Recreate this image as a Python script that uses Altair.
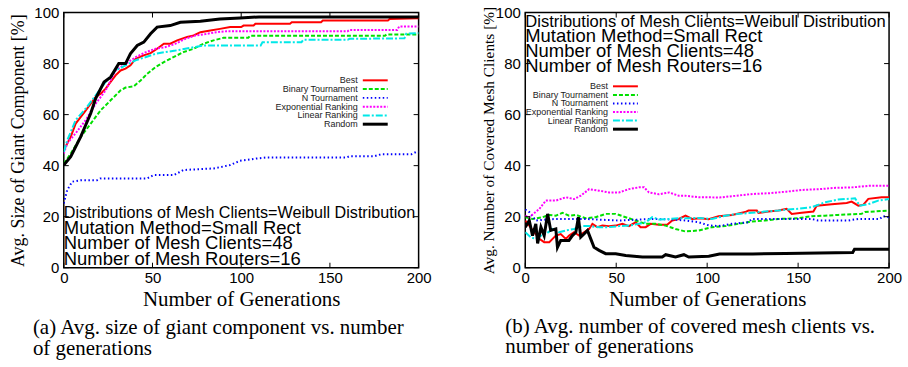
import altair as alt
import pandas as pd

series = ["Best", "Binary Tournament", "N Tournament", "Exponential Ranking", "Linear Ranking", "Random"]

# ---------------- panel (a): giant component ----------------
a_best_x = [0, 3.9, 6.7, 9.6, 12.4, 15.2, 18, 20.8, 23.6, 26.4, 29.2, 32, 34.8, 37.6, 40.5, 45, 48.9, 52.6, 56.4, 60, 63.9, 69.5, 73.2, 77, 82.6, 88, 93.8, 100, 101.3, 107, 108, 127.5, 128.5, 145, 146, 182.7, 183.7, 200]
a_best_y = [46.1, 51.3, 56.5, 59.1, 61.7, 64.3, 66.9, 68.2, 70.2, 72.8, 75.4, 77.3, 78, 79.3, 81.9, 83.2, 84.1, 85.8, 87.8, 87.8, 89.1, 90.4, 91, 92.3, 93, 93.6, 94.3, 94.3, 94.9, 94.9, 95.6, 95.6, 96.2, 96.2, 96.9, 96.9, 97.5, 97.8]
a_bin_x = [0, 3.9, 9.6, 15.2, 20.8, 26.4, 32, 34.8, 39.5, 43.3, 47, 51.6, 56.4, 61.8, 67.4, 73.2, 78.8, 84.4, 90, 104, 105, 181, 182, 200]
a_bin_y = [40.8, 44.7, 51.3, 56.5, 61.7, 65.6, 69.5, 70.6, 71.1, 73.4, 76, 78.6, 80.6, 82.5, 84.5, 85.8, 87.8, 89.1, 90.1, 90.1, 90.9, 90.9, 91.4, 91.4]
a_nt_x = [0, 1.9, 4.7, 9.4, 18.7, 20.6, 47, 50.6, 62, 67.5, 84.4, 93.7, 99.3, 108.7, 114.3, 159.3, 161, 175, 179, 196, 198.7, 200]
a_nt_y = [25.2, 30.4, 33.7, 34.3, 34.3, 35, 35, 36.3, 36.3, 38.3, 38.9, 40.2, 41.9, 42.8, 43.2, 43.2, 43.7, 43.7, 44.5, 44.5, 45.4, 45.4]
a_exp_x = [0, 2, 6.7, 12.4, 18, 23.6, 29.2, 34.8, 40.5, 46, 51.6, 57, 63, 68.5, 74, 80, 86, 92, 160, 161, 188, 189, 200]
a_exp_y = [44.8, 48.8, 52.7, 57.9, 64.3, 69.5, 77.3, 79.9, 82.5, 84.4, 85.8, 86.4, 87.8, 89.7, 91, 91.6, 92.3, 92.7, 92.7, 93.2, 93.2, 94.5, 94.5]
a_lin_x = [0, 2, 6.7, 12.4, 18, 23.6, 29.2, 34.8, 40.5, 46, 51.6, 57, 63, 73.2, 78.8, 94, 111, 112, 134, 135, 160, 161, 192, 193, 200]
a_lin_y = [45.4, 50, 57.9, 62.4, 67.6, 72.8, 77.3, 79.3, 81.3, 82.5, 83.8, 84.5, 85.1, 86.4, 87.1, 87.1, 87.1, 88.4, 88.4, 89.3, 89.3, 89.7, 89.9, 91.7, 92]
a_rnd_x = [0, 3.9, 9.5, 15.2, 18, 22.7, 26.4, 31, 34.8, 37.6, 41.4, 45.1, 48.9, 52.6, 60, 65.7, 77, 88, 99.4, 110, 200]
a_rnd_y = [40.2, 43.5, 51.3, 60.5, 66.4, 72.8, 74.7, 80, 80, 83.9, 87.1, 88.4, 91.7, 94.3, 94.9, 96.2, 96.6, 97.5, 97.9, 98.3, 98.3]

# ---------------- panel (b): covered mesh clients ----------------
b_best_x = [0, 2.2, 4.9, 7.7, 10.4, 13.2, 15, 16.8, 19.5, 22.3, 24.1, 26.8, 29.6, 32.3, 35.1, 36.9, 39.6, 42.4, 46, 49.7, 53.4, 57, 60.7, 63.4, 66.2, 68.9, 73.5, 78, 80.8, 84.4, 88.1, 91.7, 96.3, 100.8, 106.3, 113.6, 120.9, 122.7, 127.3, 128.2, 133.7, 139.2, 143.7, 146.5, 152, 158.4, 160.2, 168.5, 176.7, 179.4, 183.1, 185.8, 188.6, 195.9, 200]
b_best_y = [18.5, 16.5, 13.9, 11.3, 10, 10, 11.3, 12.6, 13.2, 11.3, 12.6, 13.9, 12.6, 13.9, 15.2, 17.2, 15.9, 16.5, 16.3, 16.5, 17.2, 16.3, 17.8, 15.9, 15.9, 17.2, 16.8, 16.8, 18.5, 19.1, 20.4, 19.1, 19.4, 19.0, 20.2, 20.7, 21.8, 22.4, 22.4, 21.5, 22, 22.4, 23.1, 21.1, 21.5, 22, 24.3, 24.9, 25.4, 25.9, 24.3, 24.6, 27, 27.6, 27.6]
b_bin_x = [0, 4, 9.5, 13.2, 16.8, 20.5, 24.1, 27.8, 33.2, 38.7, 44.2, 49.7, 55.2, 60.7, 66.2, 71.6, 77.1, 82.6, 88.1, 95.4, 102.6, 109.9, 117.2, 124.5, 131.8, 139.2, 150.1, 157.4, 164.7, 172, 184.8, 186.7, 200]
b_bin_y = [19.8, 19.1, 19.8, 20.7, 20.4, 21.5, 20.4, 20.7, 19.4, 19.8, 21.1, 21.1, 19.8, 18.5, 17.2, 17.2, 16.5, 15.2, 14.2, 14.6, 15.9, 16.3, 17.2, 18.1, 18.5, 19.1, 19.4, 20.2, 20.4, 20.7, 21.1, 21.8, 22.4]
b_nt_x = [0, 2.2, 5.8, 11.3, 16.8, 33.2, 51.5, 69.8, 80.8, 88.1, 95.4, 100.8, 106.3, 113.6, 122.7, 124.5, 139.2, 157.4, 161, 177.5, 183, 194.9, 196.7, 200]
b_nt_y = [22.8, 21.8, 18.5, 18.9, 19.1, 19.1, 18.5, 19.1, 18.9, 18.5, 17.8, 16.6, 16.3, 17.2, 17.8, 19.1, 19.1, 19.1, 18.5, 18.5, 19.1, 19.1, 20.2, 19.8]
b_exp_x = [0, 2.2, 7.7, 11.3, 16.8, 22.3, 26.8, 30.5, 35.1, 40.6, 46, 51.5, 57, 62.5, 65.3, 68, 73.5, 79, 84.4, 88.1, 95.4, 100.9, 106.8, 116, 125.1, 134.2, 143.4, 152.5, 161.6, 170.8, 180, 189, 200]
b_exp_y = [20.4, 19.8, 23, 26.3, 26.3, 27.6, 26.9, 28.2, 30.8, 30.2, 29.5, 29.5, 30.8, 31.5, 31.5, 29.5, 28.8, 29.5, 28.2, 28.2, 27.6, 27.6, 27.5, 28.2, 28.9, 29.2, 29.8, 30.5, 30.8, 31.3, 31.5, 32.1, 32.1]
b_lin_x = [0, 3.1, 5.8, 8.6, 11.3, 15, 18.6, 22.3, 26.8, 31.4, 35.1, 40.6, 46, 51.5, 57, 62.5, 66.2, 69.8, 73.5, 79, 84.4, 89.9, 95.4, 102.6, 109.9, 117.2, 124.5, 131.8, 139.2, 144.6, 150.1, 157.4, 164.7, 172, 181.3, 183.9, 188.6, 194, 200]
b_lin_y = [13.9, 11.9, 11.3, 12.6, 13.2, 15.2, 13.9, 14.6, 15.2, 16.3, 16.3, 15.9, 15.9, 16.3, 16.5, 17.2, 17.8, 19.8, 18.9, 19.1, 19.4, 19.4, 19.5, 19.1, 20.4, 21.1, 21.5, 22, 22.4, 22.8, 23.1, 23.7, 25.6, 26.7, 27.2, 24.3, 24.9, 26.3, 26.9]
b_rnd_x = [0, 2.2, 4, 5.8, 6.8, 8.6, 10.4, 12.3, 14, 16.8, 17.7, 19.5, 24, 25.9, 27.8, 29.2, 30.5, 32.3, 34.2, 36, 37.8, 40.6, 44.2, 49.7, 55.2, 64.4, 75.3, 77.2, 82.6, 87.2, 89.9, 100.9, 106.8, 125, 143, 180, 181, 200]
b_rnd_y = [15.9, 18.5, 12.6, 17.2, 9.5, 15.9, 12.6, 21.1, 14.6, 15.2, 8, 10.7, 10.7, 12.6, 13.9, 19.8, 12, 13.2, 14.6, 11.3, 8, 6.8, 5.5, 5.5, 4.8, 4.2, 4.2, 5.1, 4.2, 5.1, 4.2, 4.5, 5.4, 5.4, 5.6, 6, 7.2, 7.2]

x_ticks = [0, 50, 100, 150, 200]
y_ticks = [0, 20, 40, 60, 80, 100]

annot_lines = [
    "Distributions of Mesh Clients=Weibull Distribution",
    "Mutation Method=Small Rect",
    "Number of Mesh Clients=48",
    "Number of Mesh Routers=16",
]
x_title = "Number of Generations"
a_ytitle = "Avg. Size of Giant Component [%]"
b_ytitle = "Avg. Number of Covered Mesh Clients [%]"
a_caption = ["(a) Avg. size of giant component vs. number", "of generations"]
b_caption = ["(b) Avg. number of covered mesh clients vs.", "number of generations"]

# styles
colors = ["#ff0000", "#00e000", "#0000ff", "#ff00ff", "#00e8e8", "#000000"]
dashes = [None, [4, 2], [1.5, 2.5], [2, 1.5], [7, 2, 2, 2], None]
widths = [2, 2, 2, 2, 2, 3]

W_A, W_B, H = 356, 365, 256


def one_row(text):
    return pd.DataFrame({"t": [text]})


def panel(xs, ys, W, ytitle, ytitle_size, ytitle_x, leg_x, leg_y0, leg_dy,
          annot_base, annot_first_size, caption, cap_x, cap_base):
    xs_enc_axis = alt.Axis(values=x_ticks, title=x_title, labelFlush=False,
                           labelPadding=3, titleFontSize=21, titleY=38,
                           titleBaseline="alphabetic")
    ys_enc_axis = alt.Axis(values=y_ticks, title=ytitle, labelFlush=False,
                           labelPadding=5, titleFontSize=ytitle_size,
                           titleX=ytitle_x, titleY=H / 2, titleAngle=270,
                           titleBaseline="middle", titleAlign="center")
    xsc = alt.Scale(domain=[0, 200], nice=False, zero=False)
    ysc = alt.Scale(domain=[0, 100], nice=False)
    layers = []
    for i, name in enumerate(series):
        df = pd.DataFrame({"gen": xs[i], "val": ys[i]})
        kw = dict(color=colors[i], strokeWidth=widths[i], clip=True)
        if dashes[i] is not None:
            kw["strokeDash"] = dashes[i]
        layers.append(
            alt.Chart(df).mark_line(**kw).encode(
                x=alt.X("gen:Q", scale=xsc, axis=xs_enc_axis),
                y=alt.Y("val:Q", scale=ysc, axis=ys_enc_axis),
            )
        )
    # inward tick marks (gnuplot style) on all four sides
    ydf = pd.DataFrame({"val": y_ticks})
    xdf = pd.DataFrame({"gen": x_ticks})
    layers.append(alt.Chart(ydf).mark_rule(color="black", strokeWidth=1).encode(
        y=alt.Y("val:Q", scale=ysc, axis=ys_enc_axis), x=alt.value(0), x2=alt.value(5)))
    layers.append(alt.Chart(ydf).mark_rule(color="black", strokeWidth=1).encode(
        y=alt.Y("val:Q", scale=ysc, axis=ys_enc_axis), x=alt.value(W - 5), x2=alt.value(W)))
    layers.append(alt.Chart(xdf).mark_rule(color="black", strokeWidth=1).encode(
        x=alt.X("gen:Q", scale=xsc, axis=xs_enc_axis), y=alt.value(H - 5), y2=alt.value(H)))
    layers.append(alt.Chart(xdf).mark_rule(color="black", strokeWidth=1).encode(
        x=alt.X("gen:Q", scale=xsc, axis=xs_enc_axis), y=alt.value(0), y2=alt.value(5)))
    # legend (label left, sample line right)
    for i, name in enumerate(series):
        ly = leg_y0 + i * leg_dy
        kw = dict(color=colors[i], strokeWidth=widths[i])
        if dashes[i] is not None:
            kw["strokeDash"] = dashes[i]
        layers.append(alt.Chart(one_row(name)).mark_rule(**kw).encode(
            x=alt.value(leg_x + 5), x2=alt.value(leg_x + 30), y=alt.value(ly)))
        layers.append(alt.Chart(one_row(name)).mark_text(
            align="right", baseline="middle", font="Liberation Sans", fontSize=9,
            color="#222222").encode(x=alt.value(leg_x), y=alt.value(ly), text="t:N"))
    # annotation block
    for j, line in enumerate(annot_lines):
        layers.append(alt.Chart(one_row(line)).mark_text(
            align="left", baseline="alphabetic", font="Liberation Sans",
            fontSize=annot_first_size if j == 0 else 18.5, color="black").encode(
            x=alt.value(0), y=alt.value(annot_base[j]), text="t:N"))
    # caption
    for j, line in enumerate(caption):
        layers.append(alt.Chart(one_row(line)).mark_text(
            align="left", baseline="alphabetic", font="Liberation Serif",
            fontSize=21, color="black").encode(
            x=alt.value(cap_x), y=alt.value(cap_base[j]), text="t:N"))
    return alt.layer(*layers).properties(width=W, height=H)


left = panel(
    [a_best_x, a_bin_x, a_nt_x, a_exp_x, a_lin_x, a_rnd_x],
    [a_best_y, a_bin_y, a_nt_y, a_exp_y, a_lin_y, a_rnd_y],
    W_A, a_ytitle, 18, -45, 295, 68, 8.8,
    [206.3, 222.3, 237.3, 253], 16.2, a_caption, -31, [H + 67, H + 87.5])

right = panel(
    [b_best_x, b_bin_x, b_nt_x, b_exp_x, b_lin_x, b_rnd_x],
    [b_best_y, b_bin_y, b_nt_y, b_exp_y, b_lin_y, b_rnd_y],
    W_B, b_ytitle, 15.4, -37, 83, 74, 8.6,
    [14.3, 29.7, 44.3, 59.7], 16.6, b_caption, -20, [H + 66, H + 86])

chart = alt.hconcat(left, right, spacing=107, bounds="flush").properties(
    padding={"left": 9, "top": 4, "right": 5, "bottom": 0},
    background="white",
).configure_view(stroke="black", strokeWidth=1.5).configure_axis(
    grid=False, domain=False, ticks=False, tickSize=0,
    labelFont="Liberation Sans", labelFontSize=15, labelColor="black",
    titleFont="Liberation Serif", titleFontWeight="normal", titleColor="black",
)

chart.save("out.html", embed_options={"renderer": "svg", "actions": False})
